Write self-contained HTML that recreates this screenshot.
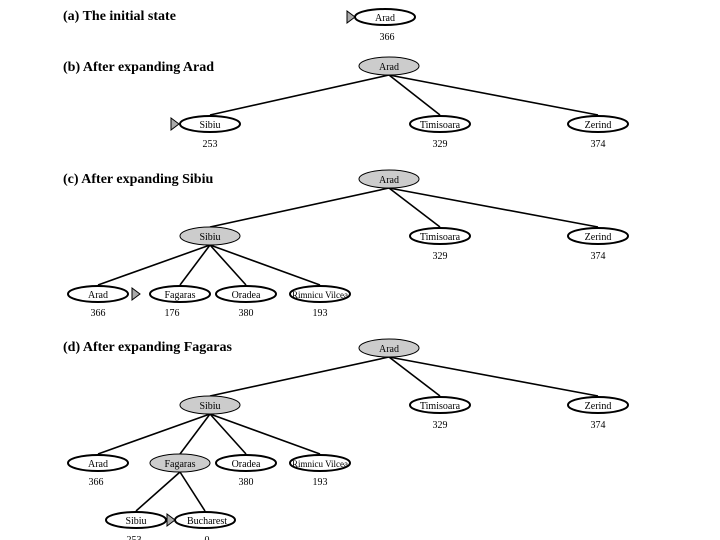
<!DOCTYPE html>
<html><head><style>body{margin:0;background:#fff}svg{display:block}</style></head><body>
<svg width="720" height="540" viewBox="0 0 720 540" xmlns="http://www.w3.org/2000/svg" font-family="Liberation Serif, serif">
<g font-weight="bold" font-size="14" fill="#000">
<text x="63" y="20">(a) The initial state</text>
<text x="63" y="71">(b) After expanding Arad</text>
<text x="63" y="183">(c) After expanding Sibiu</text>
<text x="63" y="351">(d) After expanding Fagaras</text>
</g>
<g stroke="#000" stroke-width="1.6" fill="none">
<!-- b -->
<line x1="389" y1="75" x2="210" y2="115"/><line x1="389" y1="75" x2="440" y2="115"/><line x1="389" y1="75" x2="598" y2="115"/>
<!-- c -->
<line x1="389" y1="188" x2="210" y2="227"/><line x1="389" y1="188" x2="440" y2="227"/><line x1="389" y1="188" x2="598" y2="227"/>
<line x1="210" y1="245" x2="98" y2="285"/><line x1="210" y1="245" x2="180" y2="285"/><line x1="210" y1="245" x2="246" y2="285"/><line x1="210" y1="245" x2="320" y2="285"/>
<!-- d -->
<line x1="389" y1="357" x2="210" y2="396"/><line x1="389" y1="357" x2="440" y2="396"/><line x1="389" y1="357" x2="598" y2="396"/>
<line x1="210" y1="414" x2="98" y2="454"/><line x1="210" y1="414" x2="180" y2="454"/><line x1="210" y1="414" x2="246" y2="454"/><line x1="210" y1="414" x2="320" y2="454"/>
<line x1="180" y1="472" x2="136" y2="511"/><line x1="180" y1="472" x2="205" y2="511"/>
</g>
<g stroke="#000" stroke-width="2" fill="#fff">
<ellipse cx="385" cy="17" rx="30" ry="8"/>
<ellipse cx="389" cy="66" rx="30" ry="9" fill="#ccc" stroke-width="1"/>
<ellipse cx="210" cy="124" rx="30" ry="8"/><ellipse cx="440" cy="124" rx="30" ry="8"/><ellipse cx="598" cy="124" rx="30" ry="8"/>
<ellipse cx="389" cy="179" rx="30" ry="9" fill="#ccc" stroke-width="1"/>
<ellipse cx="210" cy="236" rx="30" ry="9" fill="#ccc" stroke-width="1"/><ellipse cx="440" cy="236" rx="30" ry="8"/><ellipse cx="598" cy="236" rx="30" ry="8"/>
<ellipse cx="98" cy="294" rx="30" ry="8"/><ellipse cx="180" cy="294" rx="30" ry="8"/><ellipse cx="246" cy="294" rx="30" ry="8"/><ellipse cx="320" cy="294" rx="30" ry="8"/>
<ellipse cx="389" cy="348" rx="30" ry="9" fill="#ccc" stroke-width="1"/>
<ellipse cx="210" cy="405" rx="30" ry="9" fill="#ccc" stroke-width="1"/><ellipse cx="440" cy="405" rx="30" ry="8"/><ellipse cx="598" cy="405" rx="30" ry="8"/>
<ellipse cx="98" cy="463" rx="30" ry="8"/><ellipse cx="180" cy="463" rx="30" ry="9" fill="#ccc" stroke-width="1"/><ellipse cx="246" cy="463" rx="30" ry="8"/><ellipse cx="320" cy="463" rx="30" ry="8"/>
<ellipse cx="136" cy="520" rx="30" ry="8"/><ellipse cx="205" cy="520" rx="30" ry="8"/>
</g>
<g fill="#aaa" stroke="#000" stroke-width="1">
<polygon points="347,11 347,23 355,17"/>
<polygon points="171,118 171,130 179,124"/>
<polygon points="132,288 132,300 140,294"/>
<polygon points="167,514 167,526 175,520"/>
</g>
<g font-size="10" text-anchor="middle" fill="#000">
<text x="385" y="21">Arad</text><text x="387" y="40">366</text>
<text x="389" y="70">Arad</text>
<text x="210" y="128">Sibiu</text><text x="440" y="128">Timisoara</text><text x="598" y="128">Zerind</text>
<text x="210" y="147">253</text><text x="440" y="147">329</text><text x="598" y="147">374</text>
<text x="389" y="183">Arad</text>
<text x="210" y="240">Sibiu</text><text x="440" y="240">Timisoara</text><text x="598" y="240">Zerind</text>
<text x="440" y="259">329</text><text x="598" y="259">374</text>
<text x="98" y="298">Arad</text><text x="180" y="298">Fagaras</text><text x="246" y="298">Oradea</text><text x="320" y="298" font-size="9">Rimnicu Vilcea</text>
<text x="98" y="316">366</text><text x="172" y="316">176</text><text x="246" y="316">380</text><text x="320" y="316">193</text>
<text x="389" y="352">Arad</text>
<text x="210" y="409">Sibiu</text><text x="440" y="409">Timisoara</text><text x="598" y="409">Zerind</text>
<text x="440" y="428">329</text><text x="598" y="428">374</text>
<text x="98" y="467">Arad</text><text x="180" y="467">Fagaras</text><text x="246" y="467">Oradea</text><text x="320" y="467" font-size="9">Rimnicu Vilcea</text>
<text x="96" y="485">366</text><text x="246" y="485">380</text><text x="320" y="485">193</text>
<text x="136" y="524">Sibiu</text><text x="207" y="524">Bucharest</text>
<text x="134" y="543">253</text><text x="207" y="543">0</text>
</g>
</svg>
</body></html>
